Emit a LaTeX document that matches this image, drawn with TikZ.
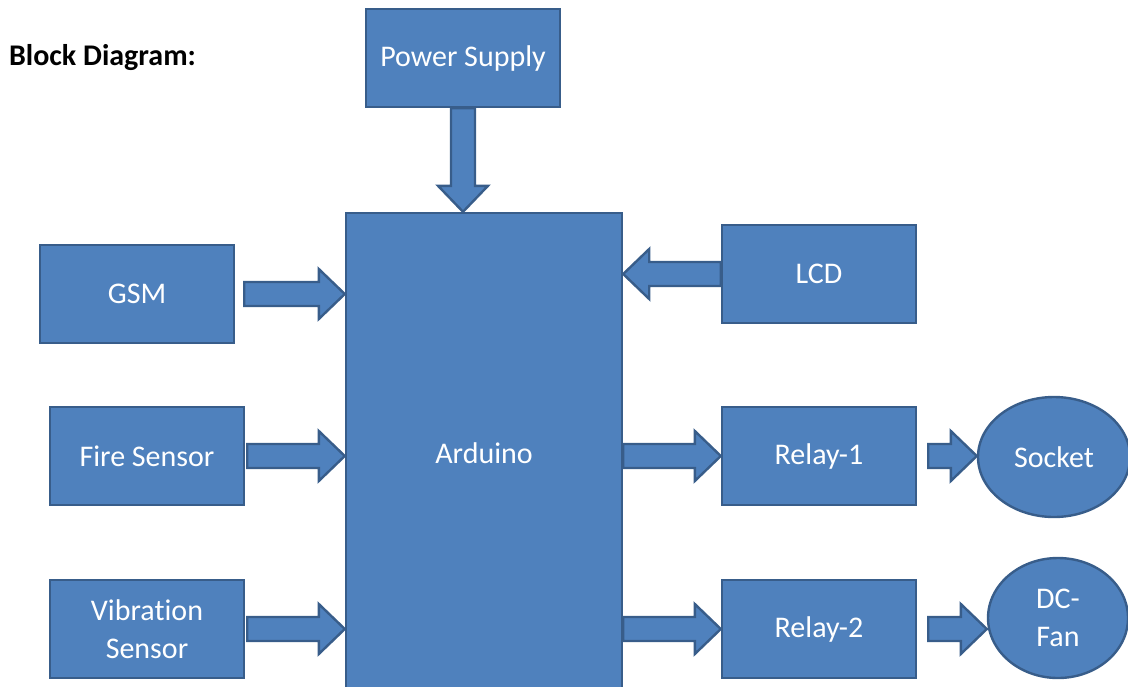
\documentclass[tikz,border=0pt]{standalone}
\usepackage{fontspec}
\setmainfont{Carlito}[Ligatures=NoCommon]
\usetikzlibrary{calc,shapes.geometric}
\definecolor{boxblue}{HTML}{4F81BD}
\definecolor{boxedge}{HTML}{385D8A}
\tikzset{
	block/.style={draw=boxedge,fill=boxblue,line width=1.2pt,text=white,minimum width=97pt,minimum height=49pt,inner sep=2pt,align=center,font=\fontsize{15}{19}\selectfont},
	roundblock/.style={block,ellipse,inner sep=0pt},
	blockarr/.style={draw=boxedge,fill=boxblue,line width=1.2pt,line join=miter}
}
% fat arrow from #1 to the tip #2
\newcommand{\blockarrow}[2]{%
	\coordinate (ba-s) at (#1);
	\coordinate (ba-t) at (#2);
	\coordinate (ba-h) at ($(ba-t)!13pt!(ba-s)$);
	\draw[blockarr] ($(ba-s)!6pt!90:(ba-t)$) -- ($(ba-h)!6pt!90:(ba-t)$) -- ($(ba-h)!12.5pt!90:(ba-t)$)
		-- (ba-t) -- ($(ba-h)!12.5pt!-90:(ba-t)$) -- ($(ba-h)!6pt!-90:(ba-t)$) -- ($(ba-s)!6pt!-90:(ba-t)$) -- cycle;
}
\begin{document}
\begin{tikzpicture}[x=0.5pt,y=-0.5pt]
		\useasboundingbox (0,0) rectangle (1128,686);
		\clip (0,0) rectangle (1128,686);
		\node[anchor=west,font=\fontsize{15}{18}\selectfont\bfseries] (title) at (2,58) {Block Diagram:};
		\node[block] (power) at (463,58) {Power Supply};
		\node[block,minimum width=138pt,minimum height=240pt] (arduino) at (484,453) {Arduino};
		\node[block] (gsm) at (137,294) {GSM};
		\node[block] (lcd) at (819,274) {LCD};
		\node[block] (fire) at (147,456) {Fire Sensor};
		\node[block] (relayA) at (819,456) {Relay-1};
		\node[block] (vib) at (147,629) {Vibration\\Sensor};
		\node[block] (relayB) at (819,629) {Relay-2};
		\node[roundblock,minimum width=76pt,minimum height=60pt] (socket) at (1054,457) {Socket};
		\node[roundblock,minimum width=70pt,minimum height=60pt] (fan) at (1058,618) {DC-\\Fan};
		%arrows
		\blockarrow{power.south}{power.south |- arduino.north}
		\blockarrow{$(gsm.east)+(9,0)$}{gsm.east -| arduino.west}
		\blockarrow{$(fire.east)+(2,0)$}{fire.east -| arduino.west}
		\blockarrow{$(vib.east)+(2,0)$}{vib.east -| arduino.west}
		\blockarrow{lcd.west}{lcd.west -| arduino.east}
		\blockarrow{arduino.east |- relayA.west}{relayA.west}
		\blockarrow{arduino.east |- relayB.west}{relayB.west}
		\blockarrow{$(relayA.east)+(11,0)$}{relayA.east -| socket.west}
		\blockarrow{$(relayB.east)+(11,0)$}{relayB.east -| fan.west}
		\end{tikzpicture}
\end{document}
